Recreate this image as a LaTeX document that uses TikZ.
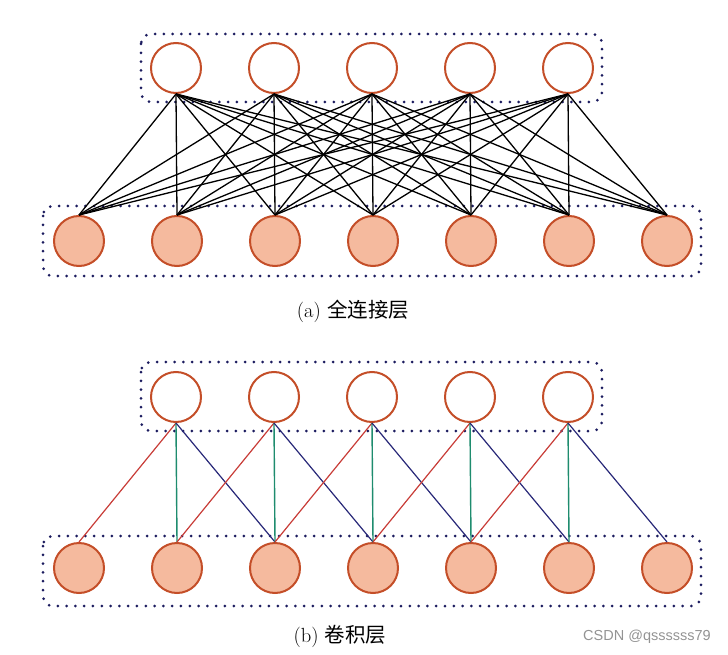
\documentclass[tikz,border=0pt]{standalone}
\usepackage{fontspec}
\newfontfamily\cjk{Noto Sans CJK SC}
\newfontfamily\wmfont{Liberation Sans}
\definecolor{ringc}{RGB}{196,78,40}
\definecolor{fillc}{RGB}{245,186,158}
\definecolor{dotc}{RGB}{28,28,95}
\definecolor{redc}{RGB}{200,60,55}
\definecolor{greenc}{RGB}{30,140,110}
\definecolor{bluec}{RGB}{40,40,120}
\begin{document}
\begin{tikzpicture}[x=1pt,y=-1pt,
  neuron/.style={circle,draw=ringc,line width=2pt,minimum size=50pt,inner sep=0pt},
  outn/.style={neuron,fill=white},
  inn/.style={neuron,fill=fillc},
  layerbox/.style={draw=dotc,line width=3pt,dash pattern=on 0pt off 8.8pt,line cap=round,rounded corners=10pt},
  fc/.style={black,line width=1.3pt},
  rl/.style={redc,line width=1.2pt},
  gl/.style={greenc,line width=1.4pt},
  bl/.style={bluec,line width=1.2pt},
  captext/.style={font=\fontsize{20.5}{22}\selectfont},
  wm/.style={font=\wmfont\fontsize{14.5}{16}\selectfont,text=gray!85}]
\useasboundingbox (0,0) rectangle (728,655);
% boxes
\draw[layerbox] (141,34) rectangle (602,102);
\draw[layerbox] (43,206) rectangle (701,276);
\draw[layerbox] (141,362) rectangle (602,431);
\draw[layerbox] (43,536) rectangle (701,606);
% (a) fully connected
\foreach \i in {0,...,4} \node[outn] (ta\i) at (176+98*\i,68) {};
\foreach \j in {0,...,6} \node[inn] (ba\j) at (79+98*\j,241) {};
\foreach \i in {0,...,4} \foreach \j in {0,...,6} \draw[fc] (ta\i.south) -- (ba\j.north);
\node[captext] (capa) at (353,311) {(a) {\cjk 全连接层}};
% (b) convolution
\foreach \i in {0,...,4} \node[outn] (tb\i) at (176+98*\i,397) {};
\foreach \j in {0,...,6} \node[inn] (bb\j) at (79+98*\j,568) {};
\foreach \i in {0,...,4} {
  \pgfmathtruncatemacro{\m}{\i+1}
  \pgfmathtruncatemacro{\r}{\i+2}
  \draw[rl] (tb\i.south) -- (bb\i.north);
  \draw[gl] (tb\i.south) -- (bb\m.north);
  \draw[bl] (tb\i.south) -- (bb\r.north);
}
\node[captext] (capb) at (340,636) {(b) {\cjk 卷积层}};
\node[wm] (mark) at (647,637) {CSDN @qssssss79};
\end{tikzpicture}
\end{document}
